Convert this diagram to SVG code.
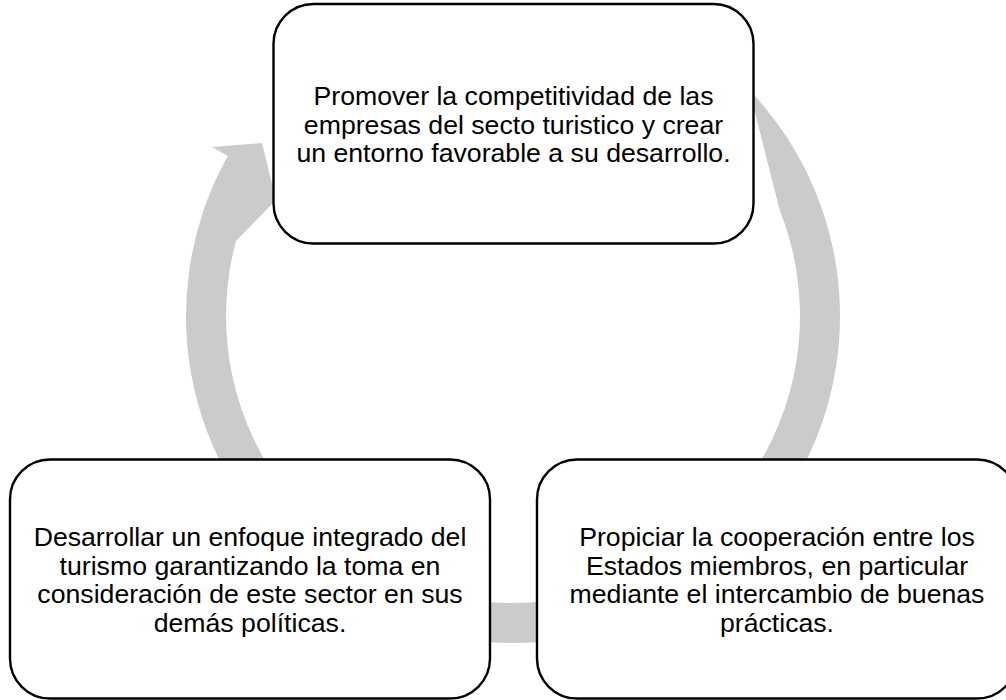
<svg xmlns="http://www.w3.org/2000/svg" width="1006" height="700" viewBox="0 0 1006 700">
  <style>
    .box { fill: #ffffff; stroke: #000000; stroke-width: 2.4; }
    .ring { fill: #cbcbcb; stroke: none; }
    .lbl { font-family: "Liberation Sans", Arial, sans-serif; font-size: 26.67px; fill: #000000; text-anchor: middle; }
  </style>
  <rect width="1006" height="700" fill="#ffffff"/>
  <g id="connectors">
    <path class="ring" d="M749.3,90 A327,327 0 1 1 227.8,156.1 L212,147 L262,143 L276,200 L236,241 A287,287 0 1 0 779.7,210 Z"/>
  </g>
  <g id="node-top">
    <rect class="box" x="273.5" y="4" width="480" height="239.5" rx="40" ry="40"/>
    <text class="lbl" x="513.5" y="105.3">Promover la competitividad de las</text>
    <text class="lbl" x="513.5" y="133.8">empresas del secto turistico y crear</text>
    <text class="lbl" x="513.5" y="162.3">un entorno favorable a su desarrollo.</text>
  </g>
  <g id="node-right">
    <rect class="box" x="537" y="459.5" width="480" height="239" rx="40" ry="40"/>
    <text class="lbl" x="777" y="546">Propiciar la cooperación entre los</text>
    <text class="lbl" x="777" y="574.5">Estados miembros, en particular</text>
    <text class="lbl" x="777" y="603">mediante el intercambio de buenas</text>
    <text class="lbl" x="777" y="631.5">prácticas.</text>
  </g>
  <g id="node-left">
    <rect class="box" x="10" y="459.5" width="480" height="239" rx="40" ry="40"/>
    <text class="lbl" x="250" y="546">Desarrollar un enfoque integrado del</text>
    <text class="lbl" x="250" y="574.5">turismo garantizando la toma en</text>
    <text class="lbl" x="250" y="603">consideración de este sector en sus</text>
    <text class="lbl" x="250" y="631.5">demás políticas.</text>
  </g>
</svg>
